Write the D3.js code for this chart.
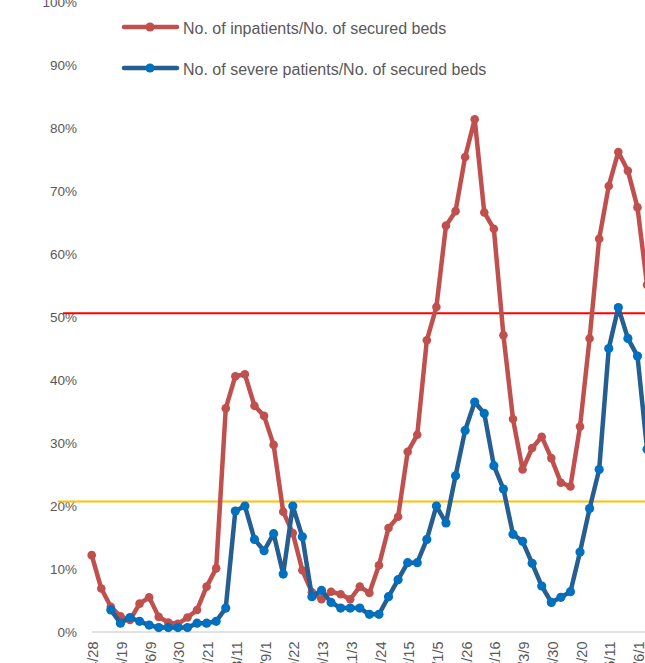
<!DOCTYPE html>
<html>
<head>
<meta charset="utf-8">
<script src="https://cdn.jsdelivr.net/npm/d3@7"></script>
<style>
  html, body { margin: 0; padding: 0; background: #fff; overflow: hidden; }
  svg { display: block; font-family: "Liberation Sans", Arial, sans-serif; }
</style>
</head>
<body>
<svg id="chart" width="645" height="663"></svg>
<script>
// ---- data ----
const dates = [
  "2020/4/28","2020/5/5","2020/5/12","2020/5/19","2020/5/26","2020/6/2","2020/6/9","2020/6/16",
  "2020/6/23","2020/6/30","2020/7/7","2020/7/14","2020/7/21","2020/7/28","2020/8/4","2020/8/11",
  "2020/8/18","2020/8/25","2020/9/1","2020/9/8","2020/9/15","2020/9/22","2020/9/29","2020/10/6",
  "2020/10/13","2020/10/20","2020/10/27","2020/11/3","2020/11/10","2020/11/17","2020/11/24","2020/12/1",
  "2020/12/8","2020/12/15","2020/12/22","2020/12/29","2021/1/5","2021/1/12","2021/1/19","2021/1/26",
  "2021/2/2","2021/2/9","2021/2/16","2021/2/23","2021/3/2","2021/3/9","2021/3/16","2021/3/23",
  "2021/3/30","2021/4/6","2021/4/13","2021/4/20","2021/4/27","2021/5/4","2021/5/11","2021/5/18",
  "2021/5/25","2021/6/1","2021/6/8"
];
const inpatients = [
  12.2, 6.9, 4.0, 2.5, 1.9, 4.5, 5.5, 2.4, 1.5, 1.3, 2.3, 3.5, 7.2, 10.1, 35.5, 40.6,
  40.9, 35.9, 34.3, 29.7, 19.1, 15.7, 9.8, 6.3, 5.2, 6.4, 6.0, 5.2, 7.2, 6.2, 10.6, 16.5,
  18.3, 28.6, 31.3, 46.3, 51.6, 64.5, 66.8, 75.4, 81.4, 66.6, 64.0, 47.1, 33.8, 25.8, 29.2, 31.0,
  27.6, 23.7, 23.1, 32.6, 46.6, 62.4, 70.8, 76.2, 73.2, 67.4, 55.1
];
const severe = [
  null, null, 3.5, 1.4, 2.3, 1.7, 1.1, 0.7, 0.7, 0.7, 0.7, 1.4, 1.4, 1.7, 3.8, 19.2,
  20.0, 14.7, 12.9, 15.6, 9.2, 20.0, 15.1, 5.6, 6.6, 4.7, 3.8, 3.8, 3.8, 2.8, 2.8, 5.6,
  8.3, 11.0, 11.0, 14.7, 20.0, 17.3, 24.8, 32.0, 36.5, 34.7, 26.4, 22.7, 15.5, 14.4, 10.9, 7.3,
  4.7, 5.5, 6.4, 12.7, 19.6, 25.8, 45.0, 51.5, 46.6, 43.8, 29.0
];
const seriesNames = ["No. of inpatients/No. of secured beds", "No. of severe patients/No. of secured beds"];
const yTicks = [0, 10, 20, 30, 40, 50, 60, 70, 80, 90, 100];
const labelEvery = 3;
const thresholds = [50.6, 20.7]; // red, yellow reference lines

// ---- layout ----
const svg = d3.select("#chart");
const step = 9.575;
const x = d3.scalePoint().domain(dates).range([91.7, 91.7 + step * (dates.length - 1)]);
const y = d3.scaleLinear().domain([0, 100]).range([632, 2]);

const gray = "#595959";
const redLine = "#C0504D", redMark = "#C0504D";
const blueLine = "#255E91", blueMark = "#0070C0";
const ff = '"Liberation Sans", Arial, sans-serif';

// y axis labels (no line, no ticks)
const yAxis = d3.axisLeft(y).tickValues(yTicks).tickFormat(d => d + "%").tickSize(0).tickPadding(0);
const gy = svg.append("g").attr("transform", "translate(77,0)").call(yAxis);
gy.select(".domain").remove();
gy.selectAll("text").attr("fill", gray).style("font-size", "13.5px").style("font-family", ff);

// x axis baseline
svg.append("line").attr("x1", 91.7).attr("x2", 645).attr("y1", y(0)).attr("y2", y(0))
  .attr("stroke", "#D9D9D9").attr("stroke-width", 1.5);

// x axis labels
const xAxis = d3.axisBottom(x).tickValues(dates.filter((d, i) => i % labelEvery === 0)).tickSize(0).tickPadding(0);
const gx = svg.append("g").attr("transform", `translate(0,${y(0)})`).call(xAxis);
gx.select(".domain").remove();
gx.selectAll("text")
  .attr("fill", gray).style("font-size", "14.5px").style("font-family", ff)
  .attr("text-anchor", "end")
  .attr("transform", "translate(1,9.5) rotate(-90)")
  .attr("x", 0).attr("y", 0).attr("dy", "0.35em");

// threshold lines
svg.append("line").attr("x1", 63).attr("x2", 645).attr("y1", y(thresholds[0])).attr("y2", y(thresholds[0]))
  .attr("stroke", "#FF0000").attr("stroke-width", 2);
svg.append("line").attr("x1", 58).attr("x2", 645).attr("y1", y(thresholds[1])).attr("y2", y(thresholds[1]))
  .attr("stroke", "#FFC000").attr("stroke-width", 2);

// series
function drawSeries(values, lineColor, markColor, r) {
  const pts = dates.map((d, i) => ({ d, v: values[i] })).filter(p => p.v != null);
  const line = d3.line().x(p => x(p.d)).y(p => y(p.v));
  svg.append("path").datum(pts).attr("d", line).attr("fill", "none")
    .attr("stroke", lineColor).attr("stroke-width", 4.5)
    .attr("stroke-linejoin", "round").attr("stroke-linecap", "round");
  svg.append("g").selectAll("circle").data(pts).join("circle")
    .attr("cx", p => x(p.d)).attr("cy", p => y(p.v)).attr("r", r).attr("fill", markColor);
}
drawSeries(inpatients, redLine, redMark, 4.3);
drawSeries(severe, blueLine, blueMark, 4.6);

// legend
const legend = [
  { name: seriesNames[0], line: redLine, mark: redMark, y: 27 },
  { name: seriesNames[1], line: blueLine, mark: blueMark, y: 68 }
];
const lg = svg.append("g");
legend.forEach(l => {
  lg.append("line").attr("x1", 124).attr("x2", 177).attr("y1", l.y).attr("y2", l.y)
    .attr("stroke", l.line).attr("stroke-width", 4.5).attr("stroke-linecap", "round");
  lg.append("circle").attr("cx", 150).attr("cy", l.y).attr("r", 4.6).attr("fill", l.mark);
  lg.append("text").attr("x", 183).attr("y", l.y + 1).attr("dy", "0.35em")
    .attr("fill", gray).style("font-size", "16px").style("font-family", ff).text(l.name);
});
</script>
</body>
</html>
